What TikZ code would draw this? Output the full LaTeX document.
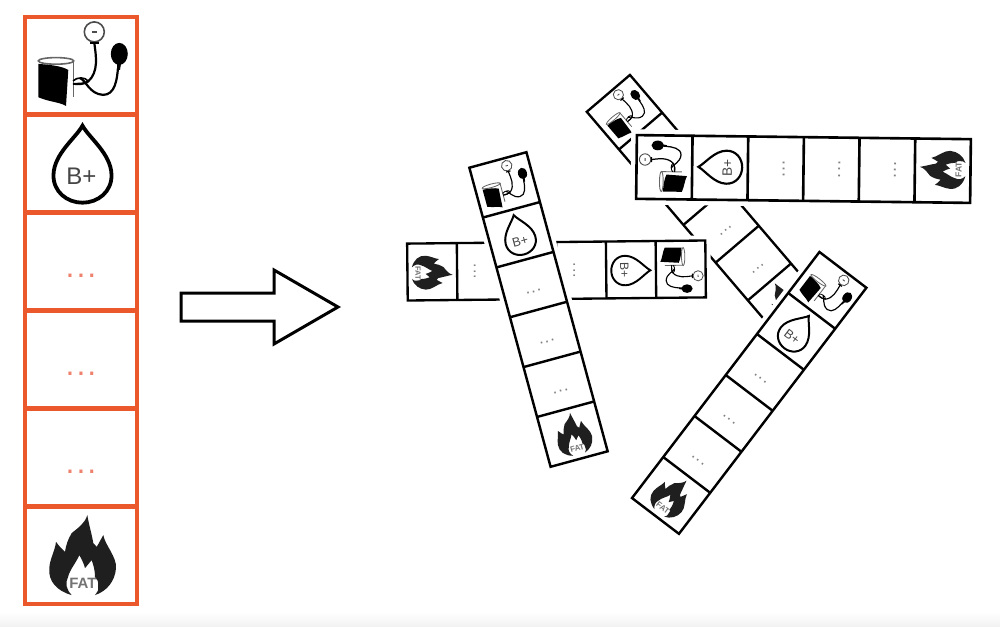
\documentclass[tikz,border=0pt]{standalone}
\usepackage{fontspec}
\setmainfont{Liberation Sans}
\usepackage{xcolor}
\usepackage{tikz}
\definecolor{stripred}{RGB}{235,88,44}
\definecolor{dotred}{RGB}{238,130,110}
\definecolor{dotgray}{RGB}{130,130,130}
\definecolor{labelgray}{RGB}{70,70,70}
\newif\ifbackstrip
\tikzset{
    backstrip/.code={\backstriptrue},
    thinline/.style={line width=\iconsc*.8pt},
    tubeline/.style={line width=\iconsc*1.1pt},
    pics/cuffpic/.style={code={
        \draw[thinline, draw=black!60] (-25,5) ellipse (17.7 and 3.3);
        \draw[thinline, draw=black!60] (-7.7,5) -- (-7.7,-31);
        \fill (-42.7,2) .. controls (-30,1) and (-20,0) .. (-12.7,-4) -- (-15,-40) .. controls (-22,-36) and (-32,-36) .. (-42.7,-31.3) -- cycle;
        \draw[thinline] (-8,-15) .. controls (-4,-11) and (4,-11) .. (7,-15) .. controls (4,-19) and (-4,-19) .. (-8,-18);
        \draw[tubeline] (13.3,23) .. controls (15,10) and (18,-6) .. (7,-15.7) .. controls (4,-18) and (-2,-18) .. (-8,-18);
        \draw[tubeline] (-1,-12.3) .. controls (5,-14) and (8,-28) .. (22,-29) .. controls (34,-29) and (36,-14) .. (37,-2);
        \fill (38.3,12) ellipse (8.5 and 11);
        \fill (36,2) -- (40,2) -- (39,-4) -- (36,-4) -- cycle;
        \draw[thinline, draw=black!70] (13.3,34) circle (10);
        \draw[thinline, draw=black!70] (11,34) -- (15.6,34);
        \draw[tubeline] (9,22.7) -- (17.6,22.7);
    }},
    pics/droppic/.style={code={
        \draw[line width=\iconsc*1.9pt] (1.5,38) .. controls (8,26) and (30,10) .. (30.5,-11) .. controls (31,-28) and (17,-39) .. (1.5,-39) .. controls (-14,-39) and (-28,-28) .. (-27.5,-11) .. controls (-27,10) and (-5,26) .. (1.5,38) -- cycle;
        \ifbackstrip\else
        \node[font=\fontsize{12}{14}\selectfont, text=labelgray, inner sep=0pt] (bloodtype) at (0.5,-13) {B+};
        \fi
    }},
    pics/flamepic/.style={code={
        \fill[black!88] (-9.3,-40) .. controls (-24,-36) and (-33,-26) .. (-31.7,-13) .. controls (-31,-3) and (-26,4) .. (-25,13.3) .. controls (-22,9) and (-19,6) .. (-16,3.3) .. controls (-15,10) and (-13,16) .. (-9.3,22) .. controls (-2,28) and (4,32) .. (6.3,40) .. controls (8,30) and (11,20) .. (12.3,12) -- (15.7,8.3) .. controls (18,12) and (20,16) .. (22.3,20) .. controls (24,10) and (36,-2) .. (35,-13) .. controls (34,-26) and (26,-36) .. (14,-40) .. controls (17,-36) and (18,-34) .. (17,-32) .. controls (18,-26) and (16,-24) .. (14,-22) .. controls (14,-14) and (12,-9) .. (10.7,-5) -- (4,-13) .. controls (2,-6) and (0,-3) .. (-1.7,0) .. controls (-5,-8) and (-11,-14) .. (-13,-22) .. controls (-16,-28) and (-15,-34) .. (-9.3,-40) -- cycle;
        \ifbackstrip\else
        \node[font=\bfseries\fontsize{7.5}{9}\selectfont, text=black!55, inner sep=0pt] (fatlabel) at (2,-28) {FAT};
        \fi
    }},
    pics/bpstrip/.style n args={4}{code={
        \def\iconsc{#3}
        \begin{scope}[scale=#3, transform shape]
            \fill[white] (-66,-303.5) rectangle (66,303.5);
            \pic at (0,244.6) {cuffpic};
            \pic at (0,146.8) {droppic};
            \pic at (0,-244.6) {flamepic};
            \foreach \n in {#4} {
                \node[text=#2, font=\fontsize{16}{18}\selectfont, inner sep=0pt] (dots\n) at (0,\n-14) {.\kern1pt.\kern1pt.};
            }
            \draw[draw=#1, line width=#3*2.3pt] (-56,-293.5) rectangle (56,293.5);
            \foreach \n in {195.7,97.8,0,-97.8,-195.7} {
                \draw[draw=#1, line width=#3*2.3pt] (-56,\n) -- (56,\n);
            }
        \end{scope}
    }},
}

\begin{document}
\begin{tikzpicture}[x=0.5pt, y=0.5pt]
    \useasboundingbox (0,0) rectangle (1000,-626);
    \fill[white] (0,0) rectangle (1000,-626);

    \pic at (81,-310.5) {bpstrip={stripred}{dotred}{1}{48.9,-48.9,-146.8}};
    \shade[top color=white, bottom color=black!5] (0,-612) rectangle (1000,-626);

    \draw[line width=1.5pt, line join=miter, fill=white] (181,-293) -- (274,-293) -- (274,-270) -- (338,-307) -- (274,-344) -- (274,-321) -- (181,-321) -- cycle;

    \pic[rotate=40.5, backstrip] at (705,-206.5) {bpstrip={black}{dotgray}{.507}{-48.9,-146.8}};
    \pic[rotate=-89.4] at (556.5,-270.5) {bpstrip={black}{dotgray}{.508}{48.9,-146.8}};
    \pic[rotate=89.3] at (803.5,-169) {bpstrip={black}{dotgray}{.569}{48.9,-48.9,-146.8}};
    \pic[rotate=-37.3] at (749.2,-392.9) {bpstrip={black}{dotgray}{.527}{48.9,-48.9,-146.8}};
    \pic[rotate=15.2] at (538.5,-309.5) {bpstrip={black}{dotgray}{.528}{48.9,-48.9,-146.8}};
\end{tikzpicture}
\end{document}
